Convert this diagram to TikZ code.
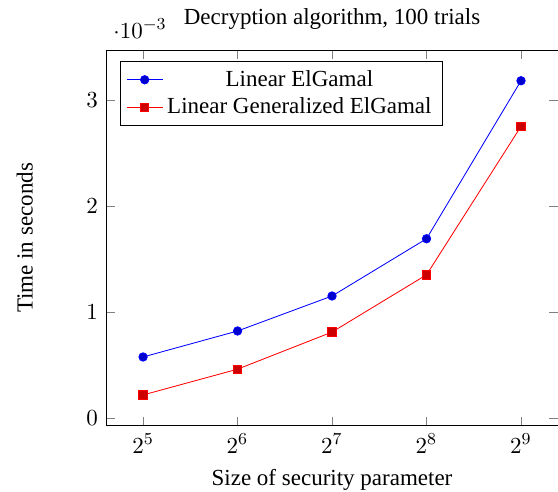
\documentclass[tikz,border=0pt,11pt]{standalone}
\usepackage{fontspec}
\setmainfont{Liberation Serif}
\usepackage{pgfplots}
\pgfplotsset{compat=1.18}

\begin{document}
\begin{tikzpicture}
    \useasboundingbox (-50.5pt,-31.4pt) rectangle (215.2pt,202.8pt);
    \begin{axis}[name=decplot,
        scale only axis, width=215.2pt, height=179pt,
        at={(0pt,0pt)}, anchor=south west,
        title={Decryption algorithm, 100 trials},
        xlabel={Size of security parameter},
        ylabel={Time in seconds},
        ylabel style={at={(axis description cs:-0.144,0.5)}},
        xmode=log, log basis x=2,
        xmin=24.39, xmax=671.6,
        ymin=-0.000075, ymax=0.00347,
        ytick={0,0.001,0.002,0.003},
        legend pos=north west, legend cell align=center]
      \addplot coordinates {(32,0.000575) (64,0.00082) (128,0.00115) (256,0.00169) (512,0.00318)};
      \addplot coordinates {(32,0.000217) (64,0.00046) (128,0.00081) (256,0.00135) (512,0.00275)};
      \legend{Linear ElGamal, Linear Generalized ElGamal}
    \end{axis}
\end{tikzpicture}
\end{document}
